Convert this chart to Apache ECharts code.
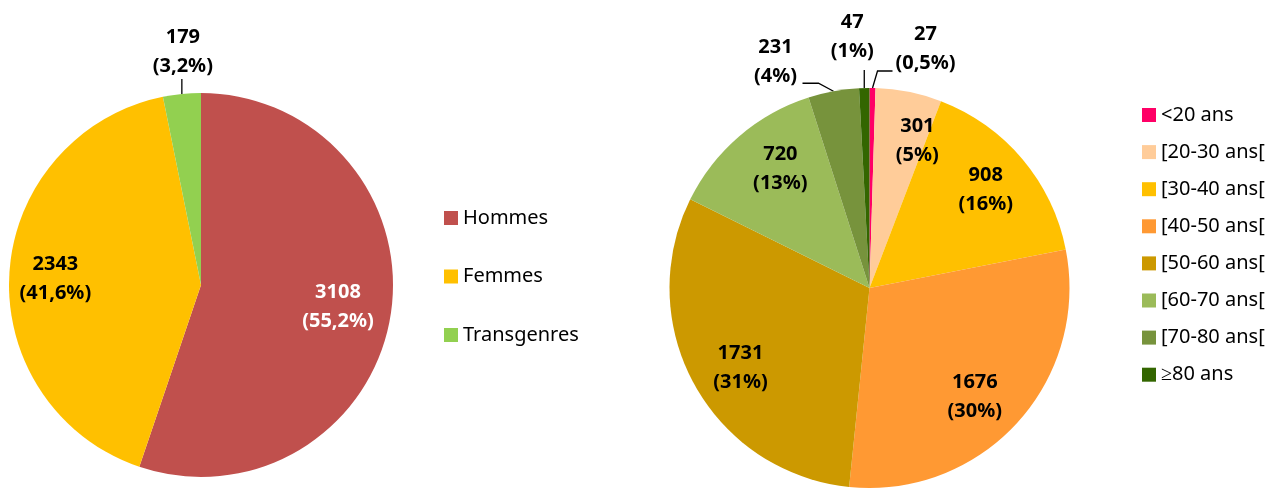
<!DOCTYPE html>
<html>
<head>
<meta charset="utf-8">
<title>Répartition par genre et par âge</title>
<style>
    html, body { margin: 0; padding: 0; background: #fff; }
    #main { width: 1287px; height: 496px; }
</style>
<script src="https://cdn.jsdelivr.net/npm/echarts@6.0.0/dist/echarts.min.js"></script>
</head>
<body>
<div id="main"></div>
<script>
// données : genre
var genreNoms = ['Hommes', 'Femmes', 'Transgenres'];
var genreValeurs = [3108, 2343, 179];
var genreCouleurs = ['#C0504D', '#FFC000', '#92D050'];

// données : âge
var ageNoms = ['<20 ans', '[20-30 ans[', '[30-40 ans[', '[40-50 ans[', '[50-60 ans[', '[60-70 ans[', '[70-80 ans[', '≥80 ans'];
var ageValeurs = [27, 301, 908, 1676, 1731, 720, 231, 47];
var agePct = ['0,5%', '5%', '16%', '30%', '31%', '13%', '4%', '1%'];
var ageCouleurs = ['#FF0066', '#FFCC99', '#FFC000', '#FF9933', '#CC9900', '#9BBB59', '#77933C', '#336600'];

var police = 'Noto Sans';

// géométrie des deux camemberts
var geoGenre = { center: [201, 285], r: 192 };
var geoAge = { center: [869.5, 288], r: 200 };

// étiquettes placées hors du secteur (décalage par rapport au bord du secteur)
var horsGenre = {
    2: { dx: 1, dy: -42, line: [[0, 0], [0, -15]] }
};
var horsAge = {
    0: { dx: 53, dy: -39, line: [[0, 0], [5, -17], [20, -17]] },
    6: { dx: -58, dy: -29, line: [[0, 0], [-15, -8], [-31, -8]] },
    7: { dx: -12, dy: -51, line: [[0, 0], [0, -18]] }
};

// petits ajustements des étiquettes intérieures
var decalGenre = { 0: [-7, -2], 1: [0, 3] };
var decalAge = { 1: [18, 2], 3: [-7, 6], 4: [4, 6], 5: [10, -4] };

function somme(arr) {
    var s = 0;
    for (var i = 0; i < arr.length; i++) s += arr[i];
    return s;
}

// position des étiquettes selon l'angle médian de chaque secteur
function placer(valeurs, geo, hors, decal) {
    var total = somme(valeurs);
    return function (p) {
        var i = p.dataIndex;
        var avant = 0;
        for (var j = 0; j < i; j++) avant += valeurs[j];
        var a = (avant + valeurs[i] / 2) / total * 2 * Math.PI;
        var sx = Math.sin(a), sy = -Math.cos(a);
        var o = hors[i];
        if (o) {
            var ax = geo.center[0] + geo.r * sx;
            var ay = geo.center[1] + geo.r * sy;
            return {
                x: ax + o.dx, y: ay + o.dy,
                align: 'center', verticalAlign: 'middle',
                labelLinePoints: o.line.map(function (pt) { return [ax + pt[0], ay + pt[1]]; })
            };
        }
        var d = geo.r * 0.76;
        var n = decal[i] || [0, 0];
        return {
            x: geo.center[0] + d * sx + n[0], y: geo.center[1] + d * sy + n[1],
            align: 'center', verticalAlign: 'middle'
        };
    };
}

function donnees(noms, valeurs, couleurs, hors, blanc) {
    return noms.map(function (n, i) {
        return {
            name: n,
            value: valeurs[i],
            itemStyle: { color: couleurs[i] },
            label: { color: blanc[i] ? '#fff' : '#000' },
            labelLine: { show: !!hors[i] }
        };
    });
}

var totalGenre = somme(genreValeurs);

function serie(nom, geo, data, hors, decal, valeurs, formatter) {
    return {
        type: 'pie',
        name: nom,
        center: geo.center,
        radius: geo.r,
        startAngle: 90,
        clockwise: true,
        avoidLabelOverlap: false,
        data: data,
        itemStyle: { borderWidth: 0 },
        label: {
            show: true,
            position: 'outside',
            formatter: formatter,
            fontFamily: police,
            fontSize: 20,
            fontWeight: 'bold',
            lineHeight: 29
        },
        labelLine: {
            show: false,
            length: 10,
            length2: 0,
            lineStyle: { color: '#000', width: 1.3 }
        },
        labelLayout: placer(valeurs, geo, hors, decal),
        emphasis: { disabled: true }
    };
}

var myChart = echarts.init(document.getElementById('main'));

var legendeTexte = { fontFamily: police, fontSize: 20, lineHeight: 20, color: '#000' };

var option = {
    backgroundColor: '#fff',
    animation: false,
    legend: [{
        data: genreNoms,
        orient: 'vertical',
        left: 444,
        top: 208,
        padding: 0,
        icon: 'rect',
        itemWidth: 14,
        itemHeight: 14,
        itemGap: 38.5,
        selectedMode: false,
        textStyle: legendeTexte
    }, {
        data: ageNoms,
        orient: 'vertical',
        left: 1142,
        top: 105,
        padding: 0,
        icon: 'rect',
        itemWidth: 14,
        itemHeight: 14,
        itemGap: 17.1,
        selectedMode: false,
        textStyle: legendeTexte
    }],
    series: [
        serie('Genre', geoGenre,
            donnees(genreNoms, genreValeurs, genreCouleurs, horsGenre, [true, false, false]),
            horsGenre, decalGenre, genreValeurs,
            function (p) {
                var pct = (p.value / totalGenre * 100).toFixed(1).replace('.', ',');
                return p.value + '\n(' + pct + '%)';
            }),
        serie('Âge', geoAge,
            donnees(ageNoms, ageValeurs, ageCouleurs, horsAge, []),
            horsAge, decalAge, ageValeurs,
            function (p) {
                return p.value + '\n(' + agePct[p.dataIndex] + ')';
            })
    ]
};

myChart.setOption(option);
</script>
</body>
</html>
